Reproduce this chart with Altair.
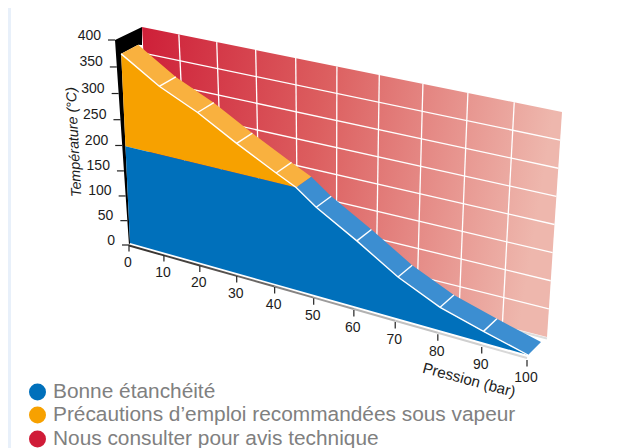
import altair as alt
import pandas as pd

# ---- values ----
pressure_ticks = [0, 10, 20, 30, 40, 50, 60, 70, 80, 90, 100]
temperature_ticks = [0, 50, 100, 150, 200, 250, 300, 350, 400]
limit_pressure = [0, 10, 20, 30, 40, 45, 50, 60, 70, 80, 90, 100]
limit_temperature = [375, 330, 297, 256, 218, 200, 172, 128, 80, 44, 21, 0]
split_pressure = 45
split_temperature = 200
legend_labels = [
    "Bonne étanchéité",
    "Précautions d’emploi recommandées sous vapeur",
    "Nous consulter pour avis technique",
]
legend_colors = ["#0070BB", "#F7A100", "#D01C38"]
strip_colors = ["#3a3633", "#45413e", "#55514e", "#6a6765", "#858382", "#9d9c9c",
                "#b2b2b2", "#c2c2c2", "#cfcfcf", "#d8d8d8"]

W, H = 605, 440
OFF = 8


# ---- oblique projection of the pressure/temperature planes ----
def warp(u, w):
    return u / (w + (1 - w) * u)


def plane(corners, w_p=1.155, w_t=1.0):
    (bl, tl, br, tr) = corners

    def f(p, t):
        s = warp(p / 100, w_p)
        v = warp(t / 400, w_t)
        bx, by = bl[0] + (br[0] - bl[0]) * s, bl[1] + (br[1] - bl[1]) * s
        tx, ty = tl[0] + (tr[0] - tl[0]) * s, tl[1] + (tr[1] - tl[1]) * s
        return [bx + (tx - bx) * v, by + (ty - by) * v]

    return f


front = plane([(130, 243), (120.5, 40), (528, 355), (547, 125)], w_t=1.1)
wall = plane([(154, 236), (142, 27), (547, 337), (562, 112)])
ticks_plane = plane([(129, 245), (115, 40), (527, 360), (547, 125)], w_t=1.06)


def depth(p, pt):
    k = p / 100
    return [pt[0] + 17 - 4 * k, pt[1] - 9 - 4 * k]


def feat(kind, coords, **props):
    geom = {"type": "Polygon", "coordinates": [coords + [coords[0]]]} if kind == "poly" else \
        {"type": "LineString", "coordinates": coords}
    return {"type": "Feature", "geometry": geom, "properties": props}


PROJ = dict(type="identity", scale=1, translate=[-OFF, -OFF])


def geo(features, **mark):
    return alt.Chart(alt.InlineData(values=features)).mark_geoshape(**mark).project(**PROJ)


curve = list(zip(limit_pressure, limit_temperature))
front_pts = [front(p, t) for p, t in curve]
curve_orange = [c for c in curve if c[0] <= split_pressure]
curve_blue = [c for c in curve if c[0] >= split_pressure]

layers = []

# left page strip
strip_df = pd.DataFrame({"x": [0], "x2": [11], "y": [0], "y2": [448]})
xs = alt.Scale(domain=[OFF, OFF + W], nice=False, zero=False)
ys = alt.Scale(domain=[OFF + H, OFF], nice=False, zero=False)
X = alt.X("x:Q", scale=xs, axis=None)
Y = alt.Y("y:Q", scale=ys, axis=None)

layers.append(alt.Chart(strip_df).mark_rect(color="#E8F0FA", clip=True).encode(
    x=alt.X("x:Q", scale=xs, axis=None), x2="x2:Q", y=Y, y2="y2:Q"))

# back wall with its grid
wall_poly = [wall(0, 0), wall(0, 400), wall(100, 400), wall(100, 0)]
layers.append(geo([feat("line", [[wall(90, 0)[0], wall(90, 0)[1] + 1.5], [wall(100, 0)[0], wall(100, 0)[1] + 1.5]])],
                  filled=False, stroke="#dddddd", strokeWidth=2))
layers.append(geo([feat("poly", wall_poly)],
                  fill=alt.Gradient(gradient="linear", x1=0, x2=1, y1=0, y2=0.12, stops=[
                      alt.GradientStop(color="#CE1F38", offset=0),
                      alt.GradientStop(color="#DC5E5F", offset=0.45),
                      alt.GradientStop(color="#EEB7AD", offset=1)]),
                  stroke=None))
grid = [feat("line", [wall(p, 0), wall(p, 400)]) for p in pressure_ticks[1:-1]]
grid += [feat("line", [wall(0, t), wall(100, t)]) for t in temperature_ticks[1:-1]]
layers.append(geo(grid, filled=False, stroke="white", strokeWidth=1.3))

# black side
black = [ticks_plane(0, 400), wall(0, 400), [142, 45], depth(0, front(0, 375)),
         front(0, 375), front(0, 0), ticks_plane(0, 0)]
layers.append(geo([feat("poly", black)], fill="black", stroke=None))


# top band of the limit curve
def band(pairs):
    f = [front(p, t) for p, t in pairs]
    b = [depth(p, front(p, t)) for p, t in pairs]
    return feat("poly", f + b[::-1])


layers.append(geo([band(curve_orange)], fill="#F9B13F", stroke=None))
layers.append(geo([band(curve_blue)], fill="#3C8ED1", stroke=None))

# front faces
orange_face = [front(p, t) for p, t in curve_orange]
blue_face = [front(0, split_temperature)] + [front(p, t) for p, t in curve_blue] + [front(0, 0)]
layers.append(geo([feat("poly", orange_face + [front(0, split_temperature)])], fill="#F7A100", stroke=None))
layers.append(geo([feat("poly", blue_face)], fill="#0070BB", stroke=None))

# band separators and front edge
seps = [feat("line", [front(p, t), depth(p, front(p, t))]) for p, t in curve
        if p % 10 == 0 and 0 < p < 100]
seps.append(feat("line", front_pts))
layers.append(geo(seps, filled=False, stroke="white", strokeWidth=1.4))

# pressure axis strip
segs = []
for i in range(len(pressure_ticks) - 1):
    a, b = pressure_ticks[i], pressure_ticks[i + 1]
    pa, pb = ticks_plane(a, 0), ticks_plane(b, 0)
    segs.append(feat("line", [[pa[0], pa[1] + 0.5 - 2.5 * a / 100], [pb[0], pb[1] + 0.5 - 2.5 * b / 100]],
                     c=strip_colors[i]))
layers.append(geo(segs, filled=False, strokeWidth=2).encode(
    stroke=alt.Stroke("properties.c:N", scale=None)))

# ticks
tick_lines = [feat("line", [ticks_plane(p, 0), [ticks_plane(p, 0)[0], ticks_plane(p, 0)[1] + 6.5]])
              for p in pressure_ticks]
tick_lines += [feat("line", [ticks_plane(0, t), [ticks_plane(0, t)[0] - 7, ticks_plane(0, t)[1]]])
               for t in temperature_ticks]
layers.append(geo(tick_lines, filled=False, stroke="#222222", strokeWidth=1.2))

FONT = "Liberation Sans"
p_df = pd.DataFrame({
    "x": [ticks_plane(p, 0)[0] - 1 for p in pressure_ticks],
    "y": [ticks_plane(p, 0)[1] + 18 for p in pressure_ticks],
    "t": [str(p) for p in pressure_ticks]})
t_df = pd.DataFrame({
    "x": [ticks_plane(0, t)[0] - 14 for t in temperature_ticks],
    "y": [ticks_plane(0, t)[1] - 4.5 for t in temperature_ticks],
    "t": [str(t) for t in temperature_ticks]})
layers.append(alt.Chart(p_df).mark_text(font=FONT, fontSize=14, color="#1c1c1c", align="center", baseline="middle")
              .encode(x=X, y=Y, text="t:N"))
layers.append(alt.Chart(t_df).mark_text(font=FONT, fontSize=14, color="#1c1c1c", align="right", baseline="middle")
              .encode(x=X, y=Y, text="t:N"))

layers.append(alt.Chart(pd.DataFrame({"x": [74.5], "y": [142], "t": ["Température (°C)"]}))
              .mark_text(font=FONT, fontSize=14.3, fontStyle="italic", color="#1c1c1c", angle=267,
                         align="center", baseline="middle").encode(x=X, y=Y, text="t:N"))
layers.append(alt.Chart(pd.DataFrame({"x": [469], "y": [380], "t": ["Pression (bar)"]}))
              .mark_text(font=FONT, fontSize=15.2, color="#1c1c1c", angle=15,
                         align="center", baseline="middle").encode(x=X, y=Y, text="t:N"))

# legend
leg_df = pd.DataFrame({"x": [37.5] * 3, "tx": [53] * 3, "y": [392, 415, 439],
                       "t": legend_labels, "c": legend_colors})
layers.append(alt.Chart(leg_df).mark_point(filled=True, shape="circle", size=289, opacity=1).encode(
    x=X, y=Y, color=alt.Color("c:N", scale=None)))
layers.append(alt.Chart(leg_df).mark_text(font=FONT, fontSize=20.85, color="#808080", align="left", baseline="middle")
              .encode(x=alt.X("tx:Q", scale=xs, axis=None), y=Y, text="t:N"))

chart = alt.layer(*layers).properties(
    width=W, height=H, padding=0, background="white",
    autosize=alt.AutoSizeParams(type="none")
).configure_view(stroke=None)

chart.save("out.html", embed_options={"renderer": "svg", "actions": False})
